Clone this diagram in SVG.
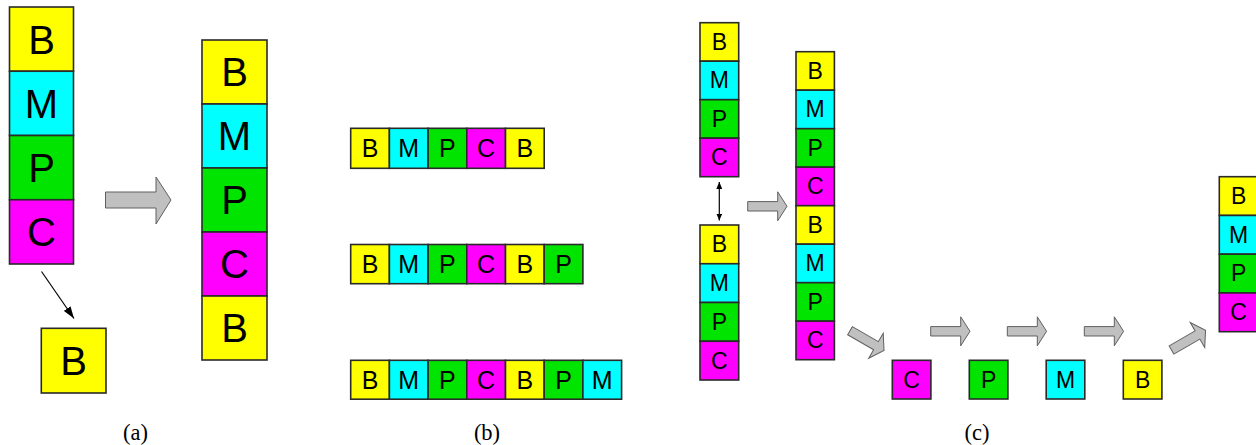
<svg xmlns="http://www.w3.org/2000/svg" width="1256" height="445" viewBox="0 0 1256 445">
<style>
.cell{stroke:#2a2a2a;stroke-width:1.6}
.y{fill:#ffff00}.c{fill:#00ffff}.g{fill:#00e400}.m{fill:#ff00ff}
text{font-family:"Liberation Sans",Arial,sans-serif;fill:#000;text-anchor:middle}
.t40{font-size:40px}.t25{font-size:25px}.t23{font-size:23px}
.lab{font-family:"Liberation Serif","Times New Roman",serif;font-size:22.5px}
.blk{fill:#c0c0c0;stroke:#606060;stroke-width:1}
.ln{stroke:#000;stroke-width:1.2;fill:none}
</style>
<defs>
<path id="ba" d="M0,-4.7 L30,-4.7 L30,-14.5 L39.3,0 L30,14.5 L30,4.7 L0,4.7 Z"/>
<marker id="ah" viewBox="0 0 12 8" refX="12" refY="4" markerWidth="12" markerHeight="8" markerUnits="userSpaceOnUse" orient="auto"><path d="M0,0 L12,4 L0,8 Z" fill="#000"/></marker>
<marker id="ah2" viewBox="0 0 7 6" refX="7" refY="3" markerWidth="7" markerHeight="6" markerUnits="userSpaceOnUse" orient="auto-start-reverse"><path d="M0,0 L7,3 L0,6 Z" fill="#000"/></marker>
</defs>

<g id="a-stack-left">
<rect class="cell y" x="9.5" y="7" width="64" height="64.25"/><text class="t40" x="41.5" y="53.5">B</text>
<rect class="cell c" x="9.5" y="71.25" width="64" height="64.25"/><text class="t40" x="41.5" y="117.7">M</text>
<rect class="cell g" x="9.5" y="135.5" width="64" height="64.25"/><text class="t40" x="41.5" y="182">P</text>
<rect class="cell m" x="9.5" y="199.75" width="64" height="64.25"/><text class="t40" x="41.5" y="246.2">C</text>
</g>
<g id="a-single-B">
<rect class="cell y" x="41.3" y="328.3" width="64.7" height="64.7"/><text class="t40" x="73.6" y="375">B</text>
</g>
<g id="a-stack-right">
<rect class="cell y" x="202" y="40" width="65" height="64"/><text class="t40" x="234.5" y="86.3">B</text>
<rect class="cell c" x="202" y="104" width="65" height="64"/><text class="t40" x="234.5" y="150.3">M</text>
<rect class="cell g" x="202" y="168" width="65" height="64"/><text class="t40" x="234.5" y="214.3">P</text>
<rect class="cell m" x="202" y="232" width="65" height="64"/><text class="t40" x="234.5" y="278.3">C</text>
<rect class="cell y" x="202" y="296" width="65" height="64"/><text class="t40" x="234.5" y="342.3">B</text>
</g>

<g id="b-row1">
<rect class="cell y" x="350.7" y="128.3" width="38.7" height="40"/><text class="t25" x="370" y="157.3">B</text>
<rect class="cell c" x="389.4" y="128.3" width="38.7" height="40"/><text class="t25" x="408.7" y="157.3">M</text>
<rect class="cell g" x="428.1" y="128.3" width="38.7" height="40"/><text class="t25" x="447.4" y="157.3">P</text>
<rect class="cell m" x="466.8" y="128.3" width="38.7" height="40"/><text class="t25" x="486.1" y="157.3">C</text>
<rect class="cell y" x="505.5" y="128.3" width="38.7" height="40"/><text class="t25" x="524.8" y="157.3">B</text>
</g>
<g id="b-row2">
<rect class="cell y" x="350.7" y="244.5" width="38.7" height="39.2"/><text class="t25" x="370" y="273">B</text>
<rect class="cell c" x="389.4" y="244.5" width="38.7" height="39.2"/><text class="t25" x="408.7" y="273">M</text>
<rect class="cell g" x="428.1" y="244.5" width="38.7" height="39.2"/><text class="t25" x="447.4" y="273">P</text>
<rect class="cell m" x="466.8" y="244.5" width="38.7" height="39.2"/><text class="t25" x="486.1" y="273">C</text>
<rect class="cell y" x="505.5" y="244.5" width="38.7" height="39.2"/><text class="t25" x="524.8" y="273">B</text>
<rect class="cell g" x="544.2" y="244.5" width="38.7" height="39.2"/><text class="t25" x="563.5" y="273">P</text>
</g>
<g id="b-row3">
<rect class="cell y" x="350.7" y="360.3" width="38.7" height="38.9"/><text class="t25" x="370" y="388.7">B</text>
<rect class="cell c" x="389.4" y="360.3" width="38.7" height="38.9"/><text class="t25" x="408.7" y="388.7">M</text>
<rect class="cell g" x="428.1" y="360.3" width="38.7" height="38.9"/><text class="t25" x="447.4" y="388.7">P</text>
<rect class="cell m" x="466.8" y="360.3" width="38.7" height="38.9"/><text class="t25" x="486.1" y="388.7">C</text>
<rect class="cell y" x="505.5" y="360.3" width="38.7" height="38.9"/><text class="t25" x="524.8" y="388.7">B</text>
<rect class="cell g" x="544.2" y="360.3" width="38.7" height="38.9"/><text class="t25" x="563.5" y="388.7">P</text>
<rect class="cell c" x="582.9" y="360.3" width="38.7" height="38.9"/><text class="t25" x="602.2" y="388.7">M</text>
</g>

<g id="c-stack-upper">
<rect class="cell y" x="700" y="22.7" width="38.7" height="38.5"/><text class="t23" x="719.3" y="49.5">B</text>
<rect class="cell c" x="700" y="61.2" width="38.7" height="38.5"/><text class="t23" x="719.3" y="88.3">M</text>
<rect class="cell g" x="700" y="99.7" width="38.7" height="38.5"/><text class="t23" x="719.3" y="126.8">P</text>
<rect class="cell m" x="700" y="138.2" width="38.7" height="38.5"/><text class="t23" x="719.3" y="165.3">C</text>
</g>
<g id="c-stack-lower">
<rect class="cell y" x="700" y="225" width="38.7" height="38.75"/><text class="t23" x="719.3" y="252.2">B</text>
<rect class="cell c" x="700" y="263.75" width="38.7" height="38.75"/><text class="t23" x="719.3" y="291">M</text>
<rect class="cell g" x="700" y="302.5" width="38.7" height="38.75"/><text class="t23" x="719.3" y="329.7">P</text>
<rect class="cell m" x="700" y="341.25" width="38.7" height="38.75"/><text class="t23" x="719.3" y="368.5">C</text>
</g>
<g id="c-stack-merged">
<rect class="cell y" x="796" y="51.7" width="38.4" height="38.5"/><text class="t23" x="815.2" y="78.8">B</text>
<rect class="cell c" x="796" y="90.2" width="38.4" height="38.5"/><text class="t23" x="815.2" y="117.3">M</text>
<rect class="cell g" x="796" y="128.7" width="38.4" height="38.5"/><text class="t23" x="815.2" y="155.8">P</text>
<rect class="cell m" x="796" y="167.2" width="38.4" height="38.5"/><text class="t23" x="815.2" y="194.3">C</text>
<rect class="cell y" x="796" y="205.7" width="38.4" height="38.5"/><text class="t23" x="815.2" y="232.8">B</text>
<rect class="cell c" x="796" y="244.2" width="38.4" height="38.5"/><text class="t23" x="815.2" y="271.3">M</text>
<rect class="cell g" x="796" y="282.7" width="38.4" height="38.5"/><text class="t23" x="815.2" y="309.8">P</text>
<rect class="cell m" x="796" y="321.2" width="38.4" height="38.5"/><text class="t23" x="815.2" y="348.3">C</text>
</g>
<g id="c-single-C"><rect class="cell m" x="892.3" y="360.3" width="38.6" height="38.7"/><text class="t23" x="911.6" y="387.6">C</text></g>
<g id="c-single-P"><rect class="cell g" x="969.3" y="360.3" width="38.6" height="38.7"/><text class="t23" x="988.6" y="387.6">P</text></g>
<g id="c-single-M"><rect class="cell c" x="1046.2" y="360.3" width="38.6" height="38.7"/><text class="t23" x="1065.5" y="387.6">M</text></g>
<g id="c-single-B"><rect class="cell y" x="1123.3" y="360.3" width="38.6" height="38.7"/><text class="t23" x="1142.6" y="387.6">B</text></g>
<g id="c-stack-result">
<rect class="cell y" x="1219.3" y="176.7" width="38.7" height="38.75"/><text class="t23" x="1238.6" y="203.9">B</text>
<rect class="cell c" x="1219.3" y="215.45" width="38.7" height="38.75"/><text class="t23" x="1238.6" y="242.6">M</text>
<rect class="cell g" x="1219.3" y="254.2" width="38.7" height="38.75"/><text class="t23" x="1238.6" y="281.4">P</text>
<rect class="cell m" x="1219.3" y="292.95" width="38.7" height="38.75"/><text class="t23" x="1238.6" y="320.1">C</text>
</g>

<g id="connectors">
<line class="ln" x1="41.5" y1="271.5" x2="74" y2="318.5" marker-end="url(#ah)"/>
<path class="blk" d="M105.5,192 L156,192 L156,177 L171,200 L156,224 L156,208 L105.5,208 Z"/>
<line class="ln" x1="719.3" y1="182" x2="719.3" y2="220.5" marker-start="url(#ah2)" marker-end="url(#ah2)"/>
<use href="#ba" class="blk" transform="translate(747.7,206.3)"/>
<use href="#ba" class="blk" transform="translate(850,330.7) rotate(30)"/>
<use href="#ba" class="blk" transform="translate(930.7,331.3)"/>
<use href="#ba" class="blk" transform="translate(1007.3,331.3)"/>
<use href="#ba" class="blk" transform="translate(1084.3,331.3)"/>
<use href="#ba" class="blk" transform="translate(1171.5,350) rotate(-30)"/>
</g>

<g id="labels">
<text class="lab" x="135.5" y="440">(a)</text>
<text class="lab" x="487" y="440">(b)</text>
<text class="lab" x="977" y="440">(c)</text>
</g>
</svg>
